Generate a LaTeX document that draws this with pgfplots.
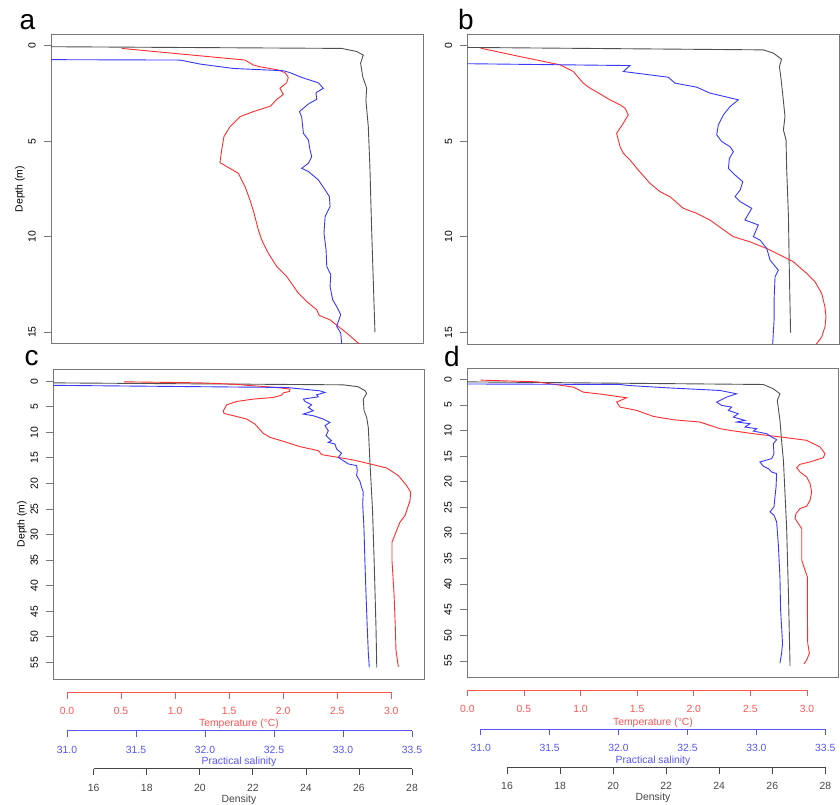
\documentclass[border=0pt]{standalone}
\usepackage{pgfplots}
\usepackage{pgfplotstable}
\pgfplotsset{compat=1.18}
\usepackage{fontspec}
\setmainfont{Liberation Sans}
\definecolor{cred}{RGB}{255,45,45}
\definecolor{cblue}{RGB}{55,55,255}
\definecolor{cblack}{RGB}{80,80,80}
\definecolor{lred}{RGB}{255,85,85}
\definecolor{lblue}{RGB}{85,85,255}
\definecolor{lgray}{RGB}{70,70,70}
\definecolor{boxgray}{RGB}{120,120,120}

% ---------------- panel a ----------------
\pgfplotstableread{
x y
14.3 0.05
25.35 0.14
25.91 0.30
26.16 0.49
26.06 0.92
26.14 1.62
26.29 2.23
26.26 2.85
26.35 4.24
26.41 6.33
26.48 9.80
26.54 12.40
26.60 15.00
}\aDen
\pgfplotstableread{
x y
0.506 0.14
1.647 0.75
1.724 1.01
1.785 1.10
1.955 1.27
2.017 1.41
2.047 1.66
2.032 1.94
1.970 2.23
2.001 2.55
1.940 2.81
1.884 3.16
1.724 3.45
1.600 3.72
1.508 4.24
1.452 4.76
1.431 5.46
1.415 6.12
1.477 6.33
1.585 6.68
1.647 7.38
1.693 8.08
1.730 8.77
1.770 9.65
1.801 10.17
1.862 10.87
1.940 11.56
2.032 12.09
2.140 12.96
2.217 13.40
2.310 13.83
2.334 14.13
2.433 14.36
2.587 15.05
2.695 15.58
2.750 15.85
}\aTem
\pgfplotstableread{
x y
30.500 0.72
31.819 0.75
31.964 0.96
32.205 1.19
32.568 1.31
32.616 1.41
32.700 1.66
32.821 1.94
32.857 2.23
32.804 2.46
32.809 2.81
32.749 3.05
32.684 3.45
32.700 3.72
32.713 4.59
32.749 4.94
32.761 5.46
32.773 5.81
32.749 6.16
32.700 6.42
32.749 6.59
32.821 7.03
32.870 7.55
32.901 7.90
32.906 8.42
32.870 8.95
32.862 9.82
32.877 10.69
32.882 11.56
32.911 12.00
32.906 12.61
32.925 13.31
32.954 13.66
32.983 14.09
32.954 14.70
32.983 15.05
32.990 15.58
32.990 15.80
}\aSal
% ---------------- panel b ----------------
\pgfplotstableread{
x y
14.3 0.10
25.66 0.23
26.04 0.40
26.35 0.72
26.27 1.10
26.32 1.62
26.39 2.49
26.48 3.72
26.42 4.41
26.52 4.94
26.54 6.33
26.61 8.95
26.64 11.56
26.69 15.00
}\bDen
\pgfplotstableread{
x y
0.118 0.14
0.465 0.58
0.819 1.01
0.936 1.36
1.024 1.97
1.084 2.23
1.187 2.58
1.260 2.84
1.349 3.10
1.393 3.28
1.422 3.63
1.378 4.06
1.319 4.59
1.349 5.29
1.378 5.63
1.437 5.98
1.510 6.51
1.613 7.20
1.702 7.64
1.790 7.90
1.908 8.51
2.025 8.77
2.143 9.12
2.246 9.56
2.349 9.99
2.496 10.26
2.644 10.61
2.762 10.95
2.879 11.30
2.997 11.91
3.071 12.35
3.130 12.96
3.159 13.66
3.168 14.18
3.159 14.70
3.130 15.23
3.086 15.58
3.060 15.80
}\bTem
\pgfplotstableread{
x y
30.500 0.92
32.083 1.05
32.035 1.36
32.361 1.66
32.410 1.97
32.567 2.18
32.664 2.49
32.869 2.84
32.809 3.19
32.760 3.63
32.724 4.15
32.712 4.67
32.748 5.02
32.809 5.29
32.833 5.55
32.804 5.90
32.797 6.42
32.845 6.77
32.901 7.12
32.882 7.55
32.845 7.90
32.882 8.16
32.966 8.51
32.917 9.12
33.014 9.38
32.978 9.99
33.026 10.17
33.075 10.61
33.099 11.22
33.159 11.74
33.135 12.09
33.128 13.31
33.128 14.36
33.118 15.58
33.115 15.80
}\bSal
% ---------------- panel c ----------------
\pgfplotstableread{
x y
14.3 0.33
25.41 0.72
25.97 1.10
26.23 1.89
26.29 2.40
26.16 3.51
26.19 5.79
26.29 7.09
26.35 9.04
26.41 15.54
26.51 25.29
26.57 35.05
26.64 48.05
26.67 56.00
}\cDen
\pgfplotstableread{
x y
0.527 0.13
1.230 0.33
1.539 0.59
1.724 0.91
1.940 1.24
2.063 1.56
2.057 2.02
2.001 2.28
1.986 2.73
1.909 3.19
1.724 3.51
1.570 3.97
1.477 4.62
1.446 5.79
1.452 6.31
1.539 6.76
1.662 7.41
1.739 8.39
1.779 9.36
1.816 10.21
1.878 10.99
2.001 11.77
2.155 12.81
2.325 13.59
2.356 14.37
2.649 15.41
2.803 16.19
2.957 16.97
3.065 18.47
3.142 20.42
3.179 21.72
3.173 23.34
3.127 26.27
3.080 27.57
3.043 29.52
3.019 30.82
3.006 31.47
3.006 35.05
3.025 41.55
3.037 48.05
3.043 52.60
3.065 55.85
}\cTem
\pgfplotstableread{
x y
30.500 0.72
32.592 1.24
32.833 1.89
32.870 2.21
32.809 2.67
32.821 3.06
32.713 3.51
32.725 3.97
32.773 4.62
32.749 5.14
32.785 5.79
32.713 6.44
32.785 6.76
32.857 7.41
32.906 8.06
32.870 8.71
32.894 9.69
32.877 10.66
32.918 11.64
32.894 11.96
32.942 12.29
32.954 13.26
32.990 14.11
32.966 14.89
33.002 15.54
33.039 16.19
33.099 16.51
33.104 17.49
33.099 18.47
33.123 19.57
33.135 20.74
33.147 21.72
33.143 23.99
33.152 28.54
33.159 35.05
33.167 41.55
33.176 48.05
33.184 53.25
33.191 55.98
}\cSal
% ---------------- panel d ----------------
\pgfplotstableread{
x y
14.3 0.46
25.66 0.98
26.04 1.82
26.29 2.80
26.19 4.10
26.29 8.00
26.35 11.90
26.42 15.80
26.48 22.30
26.54 28.80
26.61 41.81
26.67 55.98
}\dDen
\pgfplotstableread{
x y
0.118 0.13
0.613 0.46
0.936 1.50
1.024 2.47
1.201 2.93
1.407 3.58
1.319 4.42
1.349 5.40
1.496 6.05
1.643 7.22
1.820 7.87
2.055 8.32
2.143 8.97
2.232 9.62
2.320 9.95
2.526 10.60
2.820 11.38
2.997 11.90
3.115 13.20
3.159 14.50
3.144 15.28
3.027 16.12
2.938 16.58
2.909 17.23
2.938 18.08
2.997 19.05
3.027 20.35
3.041 21.98
3.027 23.60
2.997 24.77
2.938 25.23
2.903 26.20
2.894 27.18
2.923 28.15
2.953 29.13
2.953 32.05
2.953 35.31
2.982 37.26
3.003 38.56
3.003 45.06
3.006 51.56
3.021 53.51
2.997 54.81
2.973 55.59
}\dTem
\pgfplotstableread{
x y
30.500 0.85
32.011 0.98
32.071 1.17
32.349 1.63
32.494 1.82
32.736 2.15
32.857 2.80
32.785 3.45
32.712 4.42
32.748 5.07
32.821 5.40
32.797 6.05
32.869 6.70
32.833 7.35
32.917 8.00
32.857 8.32
32.954 8.65
32.917 9.30
33.002 9.62
32.978 10.08
33.075 10.60
33.111 11.25
33.147 11.77
33.123 12.55
33.128 14.50
33.111 15.47
33.026 16.12
33.051 16.97
33.087 17.43
33.111 18.08
33.147 18.40
33.143 21.00
33.135 22.95
33.128 24.90
33.099 25.88
33.128 26.53
33.147 27.83
33.159 32.05
33.171 38.56
33.176 45.06
33.190 51.56
33.183 53.51
33.171 55.46
}\dSal

\pgfplotsset{
  every axis/.append style={font=\fontsize{10.4}{12}\selectfont,
    /pgf/number format/assume math mode=true},
  pbase/.style={scale only axis, y dir=reverse, anchor=south west},
  pbox/.style={pbase, axis line style={draw=boxgray, line width=0.9pt},
    xtick=\empty, ytick pos=left, tick align=outside, major tick length=7pt,
    ytick style={draw=boxgray, line width=0.8pt},
    yticklabel shift=8pt,
    yticklabel style={rotate=90, anchor=south, inner sep=0pt, text=black}},
  pover/.style={pbase, hide axis},
  lT/.style={cred, line width=0.9pt, no markers},
  lS/.style={cblue, line width=0.9pt, no markers},
  lD/.style={cblack, line width=0.9pt, no markers},
  bax/.style={scale only axis, anchor=south west, height=10pt, ymin=0, ymax=1,
    hide y axis, axis x line*=bottom, tick align=outside, major tick length=6.5pt,
    x axis line style={-, draw=#1, line width=0.8pt},
    xtick style={draw=#1, line width=0.8pt},
    xticklabel style={text=#1, anchor=base, yshift=-16.2pt}},
  onedec/.style={xticklabel style={/pgf/number format/fixed, /pgf/number format/fixed zerofill, /pgf/number format/precision=1}},
}

\begin{document}
\begin{tikzpicture}
\path[use as bounding box] (0pt,0pt) rectangle (840pt,805pt);

% ===== panel a =====
\begin{axis}[pbox, at={(51pt,461.5pt)}, width=372.5pt, height=309.2pt,
  xmin=-0.148, xmax=3.298, ymin=-0.6, ymax=15.6, ytick={0,5,10,15}]
\end{axis}
\begin{axis}[pover, at={(51pt,461.5pt)}, width=372.5pt, height=309.2pt,
  xmin=14.390, xmax=28.431, ymin=-0.6, ymax=15.6]
\addplot[lD] table {\aDen};
\end{axis}
\begin{axis}[pover, at={(51pt,461.5pt)}, width=372.5pt, height=309.2pt,
  xmin=-0.148, xmax=3.298, ymin=-0.6, ymax=15.6]
\addplot[lT] table {\aTem};
\end{axis}
\begin{axis}[pover, at={(51pt,461.5pt)}, width=372.5pt, height=309.2pt,
  xmin=30.884, xmax=33.583, ymin=-0.6, ymax=15.6]
\addplot[lS] table {\aSal};
\end{axis}

% ===== panel b =====
\begin{axis}[pbox, at={(467.3pt,461pt)}, width=371.7pt, height=310pt,
  xmin=0, xmax=3.283, ymin=-0.6, ymax=15.6, ytick={0,5,10,15}]
\end{axis}
\begin{axis}[pover, at={(467.3pt,461pt)}, width=371.7pt, height=310pt,
  xmin=14.503, xmax=28.516, ymin=-0.6, ymax=15.6]
\addplot[lD] table {\bDen};
\end{axis}
\begin{axis}[pover, at={(467.3pt,461pt)}, width=371.7pt, height=310pt,
  xmin=0, xmax=3.283, ymin=-0.6, ymax=15.6]
\addplot[lT] table {\bTem};
\end{axis}
\begin{axis}[pover, at={(467.3pt,461pt)}, width=371.7pt, height=310pt,
  xmin=30.903, xmax=33.599, ymin=-0.6, ymax=15.6]
\addplot[lS] table {\bSal};
\end{axis}

% ===== panel c =====
\begin{axis}[pbox, at={(53.3pt,126pt)}, width=371.2pt, height=309.3pt,
  xmin=-0.127, xmax=3.307, ymin=-2.24, ymax=58.24, ytick={0,5,...,55}]
\end{axis}
\begin{axis}[pover, at={(53.3pt,126pt)}, width=371.2pt, height=309.3pt,
  xmin=14.477, xmax=28.469, ymin=-2.24, ymax=58.24]
\addplot[lD] table {\cDen};
\end{axis}
\begin{axis}[pover, at={(53.3pt,126pt)}, width=371.2pt, height=309.3pt,
  xmin=-0.127, xmax=3.307, ymin=-2.24, ymax=58.24]
\addplot[lT] table {\cTem};
\end{axis}
\begin{axis}[pover, at={(53.3pt,126pt)}, width=371.2pt, height=309.3pt,
  xmin=30.901, xmax=33.591, ymin=-2.24, ymax=58.24]
\addplot[lS] table {\cSal};
\end{axis}

% ===== panel d =====
\begin{axis}[pbox, at={(467pt,127.5pt)}, width=371.5pt, height=309.5pt,
  xmin=-0.003, xmax=3.278, ymin=-2.24, ymax=58.24, ytick={0,5,...,55}]
\end{axis}
\begin{axis}[pover, at={(467pt,127.5pt)}, width=371.5pt, height=309.5pt,
  xmin=14.492, xmax=28.497, ymin=-2.24, ymax=58.24]
\addplot[lD] table {\dDen};
\end{axis}
\begin{axis}[pover, at={(467pt,127.5pt)}, width=371.5pt, height=309.5pt,
  xmin=-0.003, xmax=3.278, ymin=-2.24, ymax=58.24]
\addplot[lT] table {\dTem};
\end{axis}
\begin{axis}[pover, at={(467pt,127.5pt)}, width=371.5pt, height=309.5pt,
  xmin=30.901, xmax=33.596, ymin=-2.24, ymax=58.24]
\addplot[lS] table {\dSal};
\end{axis}

% ===== bottom scales, left column =====
\begin{axis}[bax=lred, onedec, at={(67pt,112.7pt)}, width=324.3pt, xmin=0, xmax=3, xtick={0,0.5,...,3}]
\end{axis}
\begin{axis}[bax=lblue, onedec, at={(67pt,74.3pt)}, width=345pt, xmin=31, xmax=33.5, xtick={31,31.5,...,33.5}]
\end{axis}
\begin{axis}[bax=lgray, at={(93.7pt,36.3pt)}, width=318.3pt, xmin=16, xmax=28, xtick={16,18,...,28}]
\end{axis}
% ===== bottom scales, right column =====
\begin{axis}[bax=lred, onedec, at={(467.3pt,115pt)}, width=339.7pt, xmin=0, xmax=3, xtick={0,0.5,...,3}]
\end{axis}
\begin{axis}[bax=lblue, onedec, at={(480.7pt,76pt)}, width=344.6pt, xmin=31, xmax=33.5, xtick={31,31.5,...,33.5}]
\end{axis}
\begin{axis}[bax=lgray, at={(507pt,37.7pt)}, width=318.3pt, xmin=16, xmax=28, xtick={16,18,...,28}]
\end{axis}

% ===== titles =====
\begin{scope}[font=\fontsize{10.4}{12}\selectfont]
\node[anchor=base, text=lred] at (239pt,78pt) {Temperature (°C)};
\node[anchor=base, text=lblue] at (239pt,40pt) {Practical salinity};
\node[anchor=base, text=lgray] at (239pt,2.5pt) {Density};
\node[anchor=base, text=lred] at (653pt,79.5pt) {Temperature (°C)};
\node[anchor=base, text=lblue] at (653pt,41.3pt) {Practical salinity};
\node[anchor=base, text=lgray] at (653pt,4pt) {Density};
\node[rotate=90] at (20pt,616pt) {Depth (m)};
\node[rotate=90] at (22pt,281pt) {Depth (m)};
\end{scope}
\begin{scope}[font=\fontsize{28}{30}\selectfont]
\node[anchor=base] at (27.5pt,775pt) {a};
\node[anchor=base] at (466pt,775pt) {b};
\node[anchor=base] at (31.5pt,439pt) {c};
\node[anchor=base] at (452pt,438.3pt) {d};
\end{scope}
\end{tikzpicture}
\end{document}
